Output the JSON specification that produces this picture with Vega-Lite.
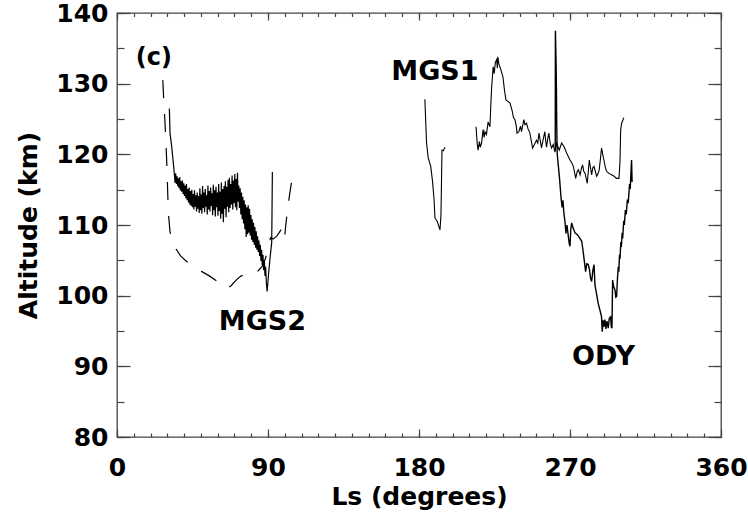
{
  "$schema": "https://vega.github.io/schema/vega-lite/v6.json",
  "width": 604,
  "height": 424,
  "autosize": "none",
  "padding": {"left": 117, "top": 13, "right": 27, "bottom": 80},
  "background": "white",
  "config": {
    "view": {"stroke": "#444", "strokeWidth": 1.3},
    "font": "DejaVu Sans",
    "axis": {
      "domain": false,
      "grid": false,
      "tickColor": "#444",
      "tickWidth": 1.2,
      "labelFont": "DejaVu Sans",
      "labelFontWeight": "bold",
      "labelFontSize": 25,
      "labelColor": "black",
      "titleFont": "DejaVu Sans",
      "titleFontWeight": "bold",
      "titleFontSize": 25,
      "titleColor": "black"
    }
  },
  "resolve": {"axis": {"x": "independent", "y": "independent"}},
  "datasets": {
    "mgs2dash": [
      {"ls": 27.3, "alt": 130.5}, {"ls": 27.8, "alt": 128}, {"ls": 28.5, "alt": 125}, {"ls": 29.2, "alt": 121.5},
      {"ls": 29.8, "alt": 118}, {"ls": 30.3, "alt": 114}, {"ls": 30.7, "alt": 111.5}, {"ls": 31.6, "alt": 109},
      {"ls": 33.5, "alt": 107.6}, {"ls": 35.2, "alt": 106.6}, {"ls": 38, "alt": 105.6}, {"ls": 41.7, "alt": 104.8},
      {"ls": 46, "alt": 104.1}, {"ls": 50.6, "alt": 103.4}, {"ls": 55, "alt": 102.8}, {"ls": 60, "alt": 102},
      {"ls": 63, "alt": 101.5}, {"ls": 65.5, "alt": 101}, {"ls": 68, "alt": 101.4}, {"ls": 71, "alt": 102.2},
      {"ls": 74, "alt": 102.8}, {"ls": 77, "alt": 102.9}, {"ls": 81, "alt": 103}, {"ls": 84, "alt": 103.5},
      {"ls": 86.4, "alt": 104.1}, {"ls": 88.5, "alt": 105.3}, {"ls": 90.2, "alt": 106.8}, {"ls": 91.5, "alt": 108.2},
      {"ls": 93, "alt": 108}, {"ls": 95.5, "alt": 108.5}, {"ls": 98, "alt": 109.4}, {"ls": 99, "alt": 109.6},
      {"ls": 99.5, "alt": 108.2}, {"ls": 100, "alt": 108.5}, {"ls": 100.6, "alt": 110}, {"ls": 101.8, "alt": 112.5},
      {"ls": 103, "alt": 114.5}, {"ls": 104, "alt": 116}, {"ls": 105.2, "alt": 118}
    ],
    "mgs2": [
      {"ls": 31.2, "alt": 126.5}, {"ls": 31.6, "alt": 123}, {"ls": 32.6, "alt": 121.1}, {"ls": 33.6, "alt": 118.7},
      {"ls": 34.2, "alt": 117.2}, {"ls": 34.6, "alt": 116}, {"ls": 35, "alt": 117.3}, {"ls": 35.4, "alt": 115.8},
      {"ls": 35.8, "alt": 116.9}, {"ls": 36.2, "alt": 115.5}, {"ls": 36.6, "alt": 116.6}, {"ls": 37, "alt": 115.2},
      {"ls": 37.4, "alt": 116.8}, {"ls": 37.8, "alt": 114.9}, {"ls": 38.2, "alt": 116.2}, {"ls": 38.6, "alt": 114.7},
      {"ls": 39, "alt": 116.3}, {"ls": 39.4, "alt": 114.4}, {"ls": 39.8, "alt": 115.9}, {"ls": 40.2, "alt": 114.1},
      {"ls": 40.6, "alt": 115.6}, {"ls": 41, "alt": 113.8}, {"ls": 41.4, "alt": 115.8}, {"ls": 41.8, "alt": 113.5},
      {"ls": 42.2, "alt": 115.1}, {"ls": 42.6, "alt": 113.2}, {"ls": 43, "alt": 115.3}, {"ls": 43.4, "alt": 112.9},
      {"ls": 43.8, "alt": 114.8}, {"ls": 44.2, "alt": 112.7}, {"ls": 44.6, "alt": 115}, {"ls": 45, "alt": 112.5},
      {"ls": 45.4, "alt": 114.4}, {"ls": 45.8, "alt": 112.2}, {"ls": 46.2, "alt": 114.9}, {"ls": 46.6, "alt": 112.6},
      {"ls": 47, "alt": 114.2}, {"ls": 47.4, "alt": 111.9}, {"ls": 47.8, "alt": 114.6}, {"ls": 48.2, "alt": 112.3},
      {"ls": 48.6, "alt": 114.1}, {"ls": 49, "alt": 111.7}, {"ls": 49.4, "alt": 115.2}, {"ls": 49.8, "alt": 112.1},
      {"ls": 50.2, "alt": 114.3}, {"ls": 50.6, "alt": 111.6}, {"ls": 51, "alt": 115.5}, {"ls": 51.4, "alt": 112.4},
      {"ls": 51.8, "alt": 114.6}, {"ls": 52.2, "alt": 111.8}, {"ls": 52.6, "alt": 115.1}, {"ls": 53, "alt": 112.6},
      {"ls": 53.4, "alt": 114.2}, {"ls": 53.8, "alt": 111.5}, {"ls": 54.2, "alt": 115.6}, {"ls": 54.6, "alt": 112.2},
      {"ls": 55, "alt": 114.8}, {"ls": 55.4, "alt": 111.9}, {"ls": 55.8, "alt": 115.3}, {"ls": 56.2, "alt": 112.7},
      {"ls": 56.6, "alt": 114.5}, {"ls": 57, "alt": 111.4}, {"ls": 57.4, "alt": 115.7}, {"ls": 57.8, "alt": 112.1},
      {"ls": 58.2, "alt": 114.9}, {"ls": 58.6, "alt": 111.2}, {"ls": 59, "alt": 115.4}, {"ls": 59.4, "alt": 112.5},
      {"ls": 59.8, "alt": 114.6}, {"ls": 60.2, "alt": 111.3}, {"ls": 60.6, "alt": 115.8}, {"ls": 61, "alt": 112},
      {"ls": 61.4, "alt": 114.7}, {"ls": 61.8, "alt": 110.9}, {"ls": 62.2, "alt": 116}, {"ls": 62.6, "alt": 111.6},
      {"ls": 63, "alt": 115.1}, {"ls": 63.4, "alt": 110.4}, {"ls": 63.8, "alt": 115.5}, {"ls": 64.2, "alt": 112.3},
      {"ls": 64.6, "alt": 116.2}, {"ls": 65, "alt": 111.1}, {"ls": 65.4, "alt": 115.4}, {"ls": 65.8, "alt": 112.6},
      {"ls": 66.2, "alt": 116.4}, {"ls": 66.6, "alt": 111.8}, {"ls": 67, "alt": 116.7}, {"ls": 67.4, "alt": 112.4},
      {"ls": 67.8, "alt": 115.8}, {"ls": 68.2, "alt": 112.9}, {"ls": 68.6, "alt": 117}, {"ls": 69, "alt": 112.2},
      {"ls": 69.4, "alt": 116.3}, {"ls": 69.8, "alt": 113.1}, {"ls": 70.2, "alt": 117.2}, {"ls": 70.6, "alt": 112.5},
      {"ls": 71, "alt": 116.5}, {"ls": 71.4, "alt": 112.1}, {"ls": 71.8, "alt": 117.4}, {"ls": 72.2, "alt": 113.3},
      {"ls": 72.6, "alt": 115.6}, {"ls": 73, "alt": 112.4}, {"ls": 73.4, "alt": 115.2}, {"ls": 73.8, "alt": 111.5},
      {"ls": 74.2, "alt": 114.6}, {"ls": 74.6, "alt": 110.8}, {"ls": 75, "alt": 114}, {"ls": 75.4, "alt": 110.2},
      {"ls": 75.8, "alt": 113.5}, {"ls": 76.2, "alt": 109.4}, {"ls": 76.6, "alt": 112.9}, {"ls": 77, "alt": 108.3},
      {"ls": 77.4, "alt": 112.5}, {"ls": 77.8, "alt": 108.7}, {"ls": 78.2, "alt": 112.8}, {"ls": 78.6, "alt": 108.9},
      {"ls": 79, "alt": 112.3}, {"ls": 79.4, "alt": 108.5}, {"ls": 79.8, "alt": 111.4}, {"ls": 80.2, "alt": 107.9},
      {"ls": 80.6, "alt": 110.8}, {"ls": 81, "alt": 107.6}, {"ls": 81.4, "alt": 110.3}, {"ls": 81.8, "alt": 107.2},
      {"ls": 82.2, "alt": 109.7}, {"ls": 82.6, "alt": 106.8}, {"ls": 83, "alt": 109.1}, {"ls": 83.4, "alt": 106.5},
      {"ls": 83.8, "alt": 108.4}, {"ls": 84.2, "alt": 106.2}, {"ls": 84.6, "alt": 107.8}, {"ls": 85, "alt": 105.6},
      {"ls": 85.4, "alt": 107.2}, {"ls": 85.8, "alt": 104.9}, {"ls": 86.2, "alt": 106.5}, {"ls": 86.6, "alt": 104.3},
      {"ls": 87, "alt": 105.8}, {"ls": 87.4, "alt": 103.6}, {"ls": 87.8, "alt": 105}, {"ls": 88.2, "alt": 102.8},
      {"ls": 88.6, "alt": 104.1}, {"ls": 89, "alt": 101.9}, {"ls": 89.5, "alt": 100.6}, {"ls": 90.3, "alt": 103},
      {"ls": 91.3, "alt": 105.5}, {"ls": 92.2, "alt": 107.5}, {"ls": 92.4, "alt": 112}, {"ls": 92.6, "alt": 117.5}
    ],
    "mgs1": [
      {"seg": "a", "ls": 183.5, "alt": 127.8}, {"seg": "a", "ls": 184.5, "alt": 121.6}, {"seg": "a", "ls": 185.5, "alt": 119.5},
      {"seg": "a", "ls": 187, "alt": 118.3}, {"seg": "a", "ls": 188.1, "alt": 116.1}, {"seg": "a", "ls": 189, "alt": 113.5},
      {"seg": "a", "ls": 189.5, "alt": 111}, {"seg": "a", "ls": 190.9, "alt": 110.5}, {"seg": "a", "ls": 192.5, "alt": 109.3},
      {"seg": "a", "ls": 193.1, "alt": 111.4}, {"seg": "a", "ls": 193.4, "alt": 116}, {"seg": "a", "ls": 193.7, "alt": 120.6},
      {"seg": "a", "ls": 194.5, "alt": 120.5}, {"seg": "a", "ls": 195.5, "alt": 121},
      {"seg": "b", "ls": 214, "alt": 123.9}, {"seg": "b", "ls": 214.7, "alt": 121.5}, {"seg": "b", "ls": 215.2, "alt": 120.6},
      {"seg": "b", "ls": 216, "alt": 121.8}, {"seg": "b", "ls": 216.5, "alt": 121}, {"seg": "b", "ls": 217.3, "alt": 121.6},
      {"seg": "b", "ls": 218.2, "alt": 123.5}, {"seg": "b", "ls": 218.8, "alt": 122.4}, {"seg": "b", "ls": 219.3, "alt": 123.2},
      {"seg": "b", "ls": 220.2, "alt": 122.8}, {"seg": "b", "ls": 221.2, "alt": 124.6}, {"seg": "b", "ls": 222.3, "alt": 123.9},
      {"seg": "b", "ls": 222.8, "alt": 127}, {"seg": "b", "ls": 223.3, "alt": 129.5}, {"seg": "b", "ls": 224.2, "alt": 132.4},
      {"seg": "b", "ls": 224.8, "alt": 131.4}, {"seg": "b", "ls": 225.5, "alt": 133}, {"seg": "b", "ls": 226.3, "alt": 133.4},
      {"seg": "b", "ls": 226.7, "alt": 132.2}, {"seg": "b", "ls": 227, "alt": 133.8}, {"seg": "b", "ls": 227.6, "alt": 132.8},
      {"seg": "b", "ls": 228.2, "alt": 132.4}, {"seg": "b", "ls": 229, "alt": 131.8}, {"seg": "b", "ls": 230, "alt": 131},
      {"seg": "b", "ls": 231, "alt": 129}, {"seg": "b", "ls": 231.8, "alt": 127.7}, {"seg": "b", "ls": 233, "alt": 127.5},
      {"seg": "b", "ls": 234.2, "alt": 127.3}, {"seg": "b", "ls": 235.5, "alt": 126.2}, {"seg": "b", "ls": 236.3, "alt": 125.2},
      {"seg": "b", "ls": 237.2, "alt": 124.9}, {"seg": "b", "ls": 238, "alt": 124}, {"seg": "b", "ls": 238.4, "alt": 123},
      {"seg": "b", "ls": 239.5, "alt": 123.2}, {"seg": "b", "ls": 240.5, "alt": 124}, {"seg": "b", "ls": 241.1, "alt": 123.2},
      {"seg": "b", "ls": 242.5, "alt": 124.9}, {"seg": "b", "ls": 243.2, "alt": 124.2}, {"seg": "b", "ls": 244.1, "alt": 124.4},
      {"seg": "b", "ls": 245, "alt": 123.6}, {"seg": "b", "ls": 246.1, "alt": 123}, {"seg": "b", "ls": 247, "alt": 121.8},
      {"seg": "b", "ls": 247.7, "alt": 120.9}, {"seg": "b", "ls": 248.8, "alt": 121.4}, {"seg": "b", "ls": 250, "alt": 122},
      {"seg": "b", "ls": 250.8, "alt": 121.6}, {"seg": "b", "ls": 251.5, "alt": 123}, {"seg": "b", "ls": 252.3, "alt": 121.9},
      {"seg": "b", "ls": 253, "alt": 120.9}, {"seg": "b", "ls": 254, "alt": 122.1}, {"seg": "b", "ls": 255, "alt": 123.2},
      {"seg": "b", "ls": 255.5, "alt": 122}, {"seg": "b", "ls": 256, "alt": 121}, {"seg": "b", "ls": 256.8, "alt": 122.3},
      {"seg": "b", "ls": 257.4, "alt": 123}, {"seg": "b", "ls": 258.2, "alt": 121.5}, {"seg": "b", "ls": 259, "alt": 120.9},
      {"seg": "b", "ls": 260, "alt": 121.4}, {"seg": "b", "ls": 261, "alt": 120.3}, {"seg": "b", "ls": 262, "alt": 121.6},
      {"seg": "b", "ls": 263.6, "alt": 120.6}, {"seg": "b", "ls": 265, "alt": 121.6}, {"seg": "b", "ls": 266.4, "alt": 121.1},
      {"seg": "b", "ls": 268, "alt": 120.2}, {"seg": "b", "ls": 270, "alt": 119.2}, {"seg": "b", "ls": 271, "alt": 118.8},
      {"seg": "b", "ls": 272, "alt": 118.3}, {"seg": "b", "ls": 273.4, "alt": 116.6}, {"seg": "b", "ls": 274.2, "alt": 117.5},
      {"seg": "b", "ls": 275, "alt": 117.8}, {"seg": "b", "ls": 276, "alt": 117.1}, {"seg": "b", "ls": 276.8, "alt": 118},
      {"seg": "b", "ls": 277.5, "alt": 118.5}, {"seg": "b", "ls": 278.2, "alt": 117.6}, {"seg": "b", "ls": 279, "alt": 117.3},
      {"seg": "b", "ls": 280.3, "alt": 115.9}, {"seg": "b", "ls": 281, "alt": 117.8}, {"seg": "b", "ls": 281.5, "alt": 119.2},
      {"seg": "b", "ls": 282.3, "alt": 118}, {"seg": "b", "ls": 282.9, "alt": 117.1}, {"seg": "b", "ls": 283.6, "alt": 118.1},
      {"seg": "b", "ls": 284.3, "alt": 118.3}, {"seg": "b", "ls": 285.2, "alt": 117.5}, {"seg": "b", "ls": 285.9, "alt": 116.9},
      {"seg": "b", "ls": 286.6, "alt": 117.2}, {"seg": "b", "ls": 287.4, "alt": 117.8}, {"seg": "b", "ls": 288.2, "alt": 119.5},
      {"seg": "b", "ls": 288.8, "alt": 120.9}, {"seg": "b", "ls": 289.5, "alt": 120}, {"seg": "b", "ls": 290.2, "alt": 119.2},
      {"seg": "b", "ls": 291, "alt": 118.2}, {"seg": "b", "ls": 291.8, "alt": 117.6}, {"seg": "b", "ls": 293.2, "alt": 117.3},
      {"seg": "b", "ls": 294.8, "alt": 117.1}, {"seg": "b", "ls": 296.3, "alt": 116.9}, {"seg": "b", "ls": 297.7, "alt": 116.6},
      {"seg": "b", "ls": 299.2, "alt": 116.6}, {"seg": "b", "ls": 299.8, "alt": 119}, {"seg": "b", "ls": 300.2, "alt": 123.5},
      {"seg": "b", "ls": 300.8, "alt": 124.4}, {"seg": "b", "ls": 302.1, "alt": 125.2}
    ],
    "ody": [
      {"ls": 261.2, "alt": 120.5}, {"ls": 261.3, "alt": 137.5}, {"ls": 261.7, "alt": 133}, {"ls": 261.9, "alt": 129.5},
      {"ls": 262.1, "alt": 124}, {"ls": 262.4, "alt": 120}, {"ls": 263, "alt": 118.5}, {"ls": 263.8, "alt": 116.5},
      {"ls": 264.6, "alt": 114}, {"ls": 265.3, "alt": 112.5}, {"ls": 265.8, "alt": 113.5}, {"ls": 266.3, "alt": 111.8},
      {"ls": 267, "alt": 110.5}, {"ls": 267.6, "alt": 108.8}, {"ls": 268.2, "alt": 110}, {"ls": 269, "alt": 108.4},
      {"ls": 269.6, "alt": 107.3}, {"ls": 270, "alt": 107}, {"ls": 270.5, "alt": 109.5}, {"ls": 271, "alt": 110.3},
      {"ls": 271.8, "alt": 109.6}, {"ls": 273, "alt": 108.9}, {"ls": 274.5, "alt": 108.6}, {"ls": 275.6, "alt": 108.2},
      {"ls": 277, "alt": 107.7}, {"ls": 277.7, "alt": 106.5}, {"ls": 278.5, "alt": 105}, {"ls": 279.3, "alt": 103.4},
      {"ls": 280, "alt": 104.5}, {"ls": 280.9, "alt": 104.4}, {"ls": 281.6, "alt": 103.7}, {"ls": 282.3, "alt": 102.4},
      {"ls": 282.9, "alt": 102}, {"ls": 283.6, "alt": 103.5}, {"ls": 284.3, "alt": 104.4}, {"ls": 284.9, "alt": 101.5},
      {"ls": 285.8, "alt": 100.3}, {"ls": 286.8, "alt": 98.9}, {"ls": 287.8, "alt": 98}, {"ls": 288.8, "alt": 97},
      {"ls": 289.2, "alt": 94.9}, {"ls": 289.8, "alt": 96.5}, {"ls": 290.3, "alt": 95.6}, {"ls": 290.8, "alt": 96.6},
      {"ls": 291.4, "alt": 95.3}, {"ls": 292, "alt": 96.4}, {"ls": 292.8, "alt": 95.4}, {"ls": 293.4, "alt": 96.8},
      {"ls": 294.2, "alt": 97}, {"ls": 294.6, "alt": 95.6}, {"ls": 295, "alt": 95.4}, {"ls": 295.4, "alt": 102.2},
      {"ls": 296, "alt": 101.3}, {"ls": 296.8, "alt": 100.8}, {"ls": 297.3, "alt": 99.8}, {"ls": 297.8, "alt": 99.9},
      {"ls": 298.3, "alt": 102.5}, {"ls": 298.8, "alt": 104.1}, {"ls": 299.1, "alt": 103.4}, {"ls": 299.5, "alt": 105.8},
      {"ls": 299.8, "alt": 105.2}, {"ls": 300.3, "alt": 107.6}, {"ls": 300.6, "alt": 106.9}, {"ls": 301.1, "alt": 108.9},
      {"ls": 301.4, "alt": 108.1}, {"ls": 302, "alt": 110.6}, {"ls": 302.4, "alt": 110}, {"ls": 303, "alt": 112.1},
      {"ls": 303.5, "alt": 111.5}, {"ls": 304.2, "alt": 113.6}, {"ls": 304.7, "alt": 113.1}, {"ls": 305.5, "alt": 115.8},
      {"ls": 305.9, "alt": 115.1}, {"ls": 306.4, "alt": 117.8}, {"ls": 306.7, "alt": 119.2}, {"ls": 307, "alt": 116.1}
    ],
    "panel": [{"ls": 22, "alt": 133.6, "txt": "(c)"}],
    "names": [
      {"ls": 86.7, "alt": 96.3, "txt": "MGS2"},
      {"ls": 189.5, "alt": 131.6, "txt": "MGS1"},
      {"ls": 290, "alt": 91.3, "txt": "ODY"}
    ]
  },
  "layer": [
    {
      "data": {"name": "mgs2dash"},
      "mark": {"type": "line", "color": "black", "strokeWidth": 1.2, "strokeDash": [18, 16]},
      "encoding": {
        "x": {"field": "ls", "type": "quantitative", "scale": {"domain": [0, 360], "nice": false, "zero": false},
          "axis": {"orient": "bottom", "values": [0, 90, 180, 270, 360], "tickSize": -8, "labelPadding": 26, "title": "Ls (degrees)", "titlePadding": 4, "labelFlush": false}},
        "y": {"field": "alt", "type": "quantitative", "scale": {"domain": [80, 140], "nice": false, "zero": false},
          "axis": {"orient": "left", "values": [80, 90, 100, 110, 120, 130, 140], "tickSize": -13, "labelPadding": 22, "title": "Altitude (km)", "titlePadding": 14, "labelFlush": false}}
      }
    },
    {
      "data": {"name": "mgs2"},
      "mark": {"type": "line", "color": "black", "strokeWidth": 1.2},
      "encoding": {
        "x": {"field": "ls", "type": "quantitative", "scale": {"domain": [0, 360], "nice": false, "zero": false},
          "axis": {"orient": "bottom", "values": [0, 10, 20, 30, 40, 50, 60, 70, 80, 90, 100, 110, 120, 130, 140, 150, 160, 170, 180, 190, 200, 210, 220, 230, 240, 250, 260, 270, 280, 290, 300, 310, 320, 330, 340, 350, 360], "tickSize": -4, "labels": false, "title": null}},
        "y": {"field": "alt", "type": "quantitative", "scale": {"domain": [80, 140], "nice": false, "zero": false},
          "axis": {"orient": "left", "values": [80, 85, 90, 95, 100, 105, 110, 115, 120, 125, 130, 135, 140], "tickSize": -7, "labels": false, "title": null}}
      }
    },
    {
      "data": {"name": "mgs1"},
      "mark": {"type": "line", "color": "black", "strokeWidth": 1.1},
      "encoding": {
        "detail": {"field": "seg", "type": "nominal"},
        "x": {"field": "ls", "type": "quantitative", "scale": {"domain": [0, 360], "nice": false, "zero": false},
          "axis": {"orient": "top", "values": [0, 90, 180, 270, 360], "tickSize": -7, "labels": false, "title": null}},
        "y": {"field": "alt", "type": "quantitative", "scale": {"domain": [80, 140], "nice": false, "zero": false},
          "axis": {"orient": "right", "values": [80, 90, 100, 110, 120, 130, 140], "tickSize": -13, "labels": false, "title": null}}
      }
    },
    {
      "data": {"name": "ody"},
      "mark": {"type": "line", "color": "black", "strokeWidth": 1.4},
      "encoding": {
        "x": {"field": "ls", "type": "quantitative", "scale": {"domain": [0, 360], "nice": false, "zero": false},
          "axis": {"orient": "top", "values": [0, 10, 20, 30, 40, 50, 60, 70, 80, 90, 100, 110, 120, 130, 140, 150, 160, 170, 180, 190, 200, 210, 220, 230, 240, 250, 260, 270, 280, 290, 300, 310, 320, 330, 340, 350, 360], "tickSize": -3.5, "labels": false, "title": null}},
        "y": {"field": "alt", "type": "quantitative", "scale": {"domain": [80, 140], "nice": false, "zero": false},
          "axis": {"orient": "right", "values": [80, 85, 90, 95, 100, 105, 110, 115, 120, 125, 130, 135, 140], "tickSize": -7, "labels": false, "title": null}}
      }
    },
    {
      "data": {"name": "panel"},
      "mark": {"type": "text", "font": "DejaVu Sans", "fontWeight": "bold", "fontSize": 24, "color": "black", "align": "center", "baseline": "middle"},
      "encoding": {
        "x": {"field": "ls", "type": "quantitative", "axis": null},
        "y": {"field": "alt", "type": "quantitative", "axis": null},
        "text": {"field": "txt"}
      }
    },
    {
      "data": {"name": "names"},
      "mark": {"type": "text", "font": "DejaVu Sans", "fontWeight": "bold", "fontSize": 27, "color": "black", "align": "center", "baseline": "middle"},
      "encoding": {
        "x": {"field": "ls", "type": "quantitative", "axis": null},
        "y": {"field": "alt", "type": "quantitative", "axis": null},
        "text": {"field": "txt"}
      }
    }
  ]
}
